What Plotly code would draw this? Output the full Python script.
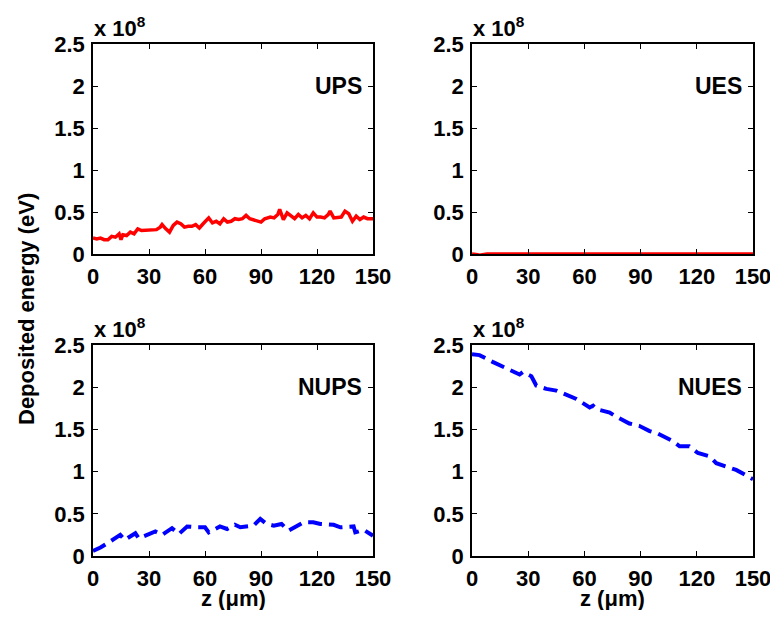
import plotly.graph_objects as go

# values in units of 1e8 eV
ups_z = [0, 2, 4, 6, 8, 10, 12, 14, 15, 16, 18, 20, 22, 24, 26, 28, 30, 32, 34, 36, 37, 39, 41, 43, 45, 47, 49, 51, 53, 55, 57, 59, 62, 64, 66, 68, 70, 72, 74, 76, 78, 80, 82, 84, 86, 88, 90, 92, 95, 97, 99, 100, 102, 104, 106, 108, 110, 112, 114, 116, 118, 120, 122, 124, 126, 127, 129, 131, 133, 135, 137, 139, 141, 143, 145, 147, 150]
ups_e = [0.19, 0.18, 0.19, 0.17, 0.17, 0.21, 0.2, 0.24, 0.17, 0.23, 0.22, 0.26, 0.24, 0.3, 0.28, 0.28, 0.28, 0.29, 0.29, 0.32, 0.35, 0.3, 0.26, 0.34, 0.38, 0.36, 0.32, 0.33, 0.33, 0.35, 0.31, 0.36, 0.43, 0.37, 0.39, 0.36, 0.42, 0.38, 0.39, 0.42, 0.41, 0.42, 0.46, 0.42, 0.41, 0.4, 0.38, 0.42, 0.44, 0.43, 0.47, 0.53, 0.41, 0.49, 0.46, 0.42, 0.47, 0.43, 0.46, 0.42, 0.49, 0.44, 0.44, 0.43, 0.47, 0.51, 0.43, 0.43, 0.44, 0.51, 0.48, 0.39, 0.45, 0.41, 0.44, 0.42, 0.42]

ues_z = [0, 2, 3, 4, 5, 6, 8, 150]
ues_e = [0.0, 0.0, -0.01, -0.015, -0.01, 0.0, 0.0, 0.0]

nups_z = [0, 4, 9, 14.6, 17, 22.7, 24.5, 33.4, 37, 42.3, 46, 50.4, 55.7, 60, 62, 68, 71.8, 76, 78.9, 86, 89.6, 93, 96.8, 101, 104.8, 109, 112.9, 118, 121.8, 128.9, 132.5, 139.6, 140.5, 145, 150]
nups_e = [0.06, 0.1, 0.17, 0.25, 0.19, 0.27, 0.21, 0.29, 0.25, 0.33, 0.26, 0.35, 0.34, 0.34, 0.28, 0.35, 0.32, 0.37, 0.34, 0.36, 0.44, 0.38, 0.36, 0.38, 0.3, 0.35, 0.4, 0.4, 0.38, 0.37, 0.34, 0.35, 0.28, 0.31, 0.24]

nues_z = [0, 4, 11, 13, 15, 22, 25.4, 27.2, 31.7, 34.3, 39.7, 45, 51, 55.7, 62.8, 64.6, 66.4, 73.5, 77, 84, 89.5, 94.8, 99.3, 107.3, 110.8, 116, 120.6, 126.9, 130.4, 138.4, 141, 150]
nues_e = [2.39, 2.38, 2.3, 2.28, 2.26, 2.19, 2.15, 2.18, 2.13, 2.02, 1.98, 1.96, 1.91, 1.86, 1.76, 1.78, 1.74, 1.7, 1.65, 1.57, 1.54, 1.48, 1.45, 1.36, 1.3, 1.3, 1.22, 1.18, 1.1, 1.04, 1.02, 0.91]

panel_names = ["UPS", "UES", "NUPS", "NUES"]
x_ticks = [0, 30, 60, 90, 120, 150]
y_ticks = [0, 0.5, 1, 1.5, 2, 2.5]
y_ticktext = ["0", "0.5", "1", "1.5", "2", "2.5"]

# page body has an 8px margin; figure sized to fit the 778x618 window
OFF = 8
W, H = 770, 602
FONT = "Liberation Sans, Arial, sans-serif"
FS = 22

fig = go.Figure()

px = lambda v: (v - OFF) / W
py = lambda v: 1 - (v - OFF) / H

xdom = [[px(93), px(373)], [px(472), px(753)]]
ydom = [[py(254), py(44)], [py(556), py(345)]]

series = [
    (ups_z, ups_e, "red", "solid", 3.5),
    (ues_z, ues_e, "red", "solid", 3.5),
    (nups_z, nups_e, "blue", "14px,7px", 4),
    (nues_z, nues_e, "blue", "14px,7px", 4),
]

for i, (zs, es, col, dash, w) in enumerate(series):
    r, c = divmod(i, 2)
    n = i + 1
    xa = "x" if n == 1 else f"x{n}"
    ya = "y" if n == 1 else f"y{n}"
    fig.add_trace(go.Scatter(x=zs, y=es, mode="lines", xaxis=xa, yaxis=ya,
                             line=dict(color=col, width=w, dash=dash), showlegend=False))
    axcommon = dict(showgrid=False, zeroline=False, showline=True, linecolor="black",
                    linewidth=1.5, mirror="ticks", ticks="inside", ticklen=5,
                    tickcolor="black", tickwidth=1, automargin=False,
                    tickfont=dict(family=FONT, size=FS, color="black", weight="bold"))
    xkey = "xaxis" if n == 1 else f"xaxis{n}"
    ykey = "yaxis" if n == 1 else f"yaxis{n}"
    fig.update_layout({
        xkey: dict(domain=xdom[c], anchor=ya, range=[0, 150], tickvals=x_ticks,
                   ticklabelstandoff=2, **axcommon),
        ykey: dict(domain=ydom[r], anchor=xa, range=[0, 2.5], tickvals=y_ticks,
                   ticktext=y_ticktext, ticklabelstandoff=2, **axcommon),
    })
    # x 10^8 label
    fig.add_annotation(xref="paper", yref="paper", x=xdom[c][0] - 1 / W, y=ydom[r][1] + 1 / H,
                       xanchor="left", yanchor="bottom", showarrow=False,
                       text="x 10<sup>8</sup>",
                       font=dict(family=FONT, size=FS, color="black", weight="bold"))
    # panel name
    fig.add_annotation(xref="paper", yref="paper", x=xdom[c][1] - 9 / W,
                       y=ydom[r][1] - 42 / H, xanchor="right", yanchor="middle",
                       showarrow=False, text=panel_names[i],
                       font=dict(family=FONT, size=23, color="black", weight="bold"))
    if r == 1:
        fig.add_annotation(xref="paper", yref="paper", x=(xdom[c][0] + xdom[c][1]) / 2,
                           y=py(598), xanchor="center", yanchor="middle", showarrow=False,
                           text="z (μm)",
                           font=dict(family=FONT, size=FS, color="black", weight="bold"))

fig.add_annotation(xref="paper", yref="paper", x=px(26), y=py(309), textangle=-90,
                   xanchor="center", yanchor="middle", showarrow=False,
                   text="Deposited energy (eV)",
                   font=dict(family=FONT, size=FS, color="black", weight="bold"))

fig.update_layout(width=W, height=H, margin=dict(l=0, r=0, t=0, b=0),
                  paper_bgcolor="white", plot_bgcolor="white")
fig.write_html("out.html")
